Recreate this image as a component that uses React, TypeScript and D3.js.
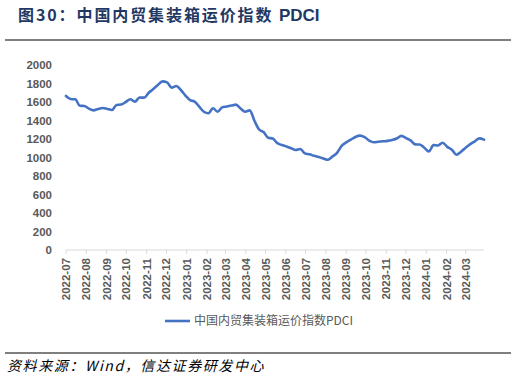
import React from 'react';
import * as d3 from 'd3';

const titleCn = '图30：中国内贸集装箱运价指数 ';
const titleEn = 'PDCI';
const sourceText = '资料来源：Wind，信达证券研发中心';
const seriesName = '中国内贸集装箱运价指数PDCI';
const startDate = '2022-07-01';
const endDomain = '2024-04-01';

// weekly PDCI readings, starting at startDate
const pdci = [
  1665, 1632, 1629, 1560, 1557, 1528, 1510, 1525, 1535, 1525,
  1514, 1568, 1572, 1600, 1629, 1604, 1648, 1647, 1700, 1740,
  1785, 1823, 1812, 1755, 1773, 1730, 1670, 1620, 1605, 1550,
  1495, 1478, 1532, 1495, 1542, 1552, 1562, 1572, 1530, 1495,
  1510, 1400, 1305, 1275, 1214, 1205, 1155, 1135, 1120, 1100,
  1081, 1092, 1045, 1035, 1018, 1005, 990, 975, 1010, 1050,
  1125, 1163, 1193, 1222, 1236, 1220, 1183, 1165, 1170, 1175,
  1180, 1190, 1205, 1234, 1210, 1185, 1142, 1140, 1105, 1065,
  1135, 1130, 1160, 1115, 1085, 1030, 1063, 1105, 1145, 1175,
  1207, 1193,
];

const yTicks = [0, 200, 400, 600, 800, 1000, 1200, 1400, 1600, 1800, 2000];
const monthTicks = [
  '2022-07', '2022-08', '2022-09', '2022-10', '2022-11', '2022-12',
  '2023-01', '2023-02', '2023-03', '2023-04', '2023-05', '2023-06',
  '2023-07', '2023-08', '2023-09', '2023-10', '2023-11', '2023-12',
  '2024-01', '2024-02', '2024-03',
];

const W = 516;
const H = 378;

export default function App() {
  const parseDay = d3.timeParse('%Y-%m-%d');
  const parseMonth = d3.timeParse('%Y-%m');
  const start = parseDay(startDate) as Date;
  const data = pdci.map((v, i) => ({ date: d3.timeDay.offset(start, i * 7), value: v }));
  const lastDate = data[data.length - 1].date;

  const x = d3.scaleTime().domain([start, parseDay(endDomain) as Date]).range([66, 486]);
  const y = d3.scaleLinear().domain([0, 2000]).range([250, 65]);

  const line = d3
    .line<{ date: Date; value: number }>()
    .x((d) => x(d.date))
    .y((d) => y(d.value))
    .curve(d3.curveMonotoneX);

  const tickFont = "'Liberation Sans', Arial, sans-serif";

  return (
    <svg
      width={W}
      height={H}
      style={{ position: 'absolute', left: 0, top: 0, background: '#fff' }}
    >
      <text
        x={18}
        y={21}
        fontSize={16}
        fontWeight="bold"
        fill="#1f3864"
        fontFamily="'Noto Sans CJK SC', sans-serif"
      >
        <tspan letterSpacing={1.9}>{titleCn}</tspan>
        <tspan fontFamily={tickFont} fontSize={17}>{titleEn}</tspan>
      </text>
      <line x1={5} x2={511} y1={40} y2={40} stroke="#7f7f7f" strokeWidth={2} />

      {yTicks.map((t) => (
        <text
          key={t}
          x={52}
          y={y(t)}
          dy="0.35em"
          textAnchor="end"
          fontSize={11.5}
          fontWeight="bold"
          fill="#595959"
          fontFamily={tickFont}
        >
          {t}
        </text>
      ))}

      <line x1={x(start)} x2={x(lastDate)} y1={250} y2={250} stroke="#d9d9d9" strokeWidth={1} />
      {monthTicks.map((m) => {
        const tx = x(parseMonth(m) as Date);
        return (
          <g key={m}>
            <line x1={tx} x2={tx} y1={250} y2={254} stroke="#d9d9d9" strokeWidth={1} />
            <text
              transform={`translate(${tx},258) rotate(-90)`}
              dy="0.35em"
              textAnchor="end"
              fontSize={11.5}
              fontWeight="bold"
              fill="#595959"
              fontFamily={tickFont}
            >
              {m}
            </text>
          </g>
        );
      })}

      <path
        d={line(data) || ''}
        fill="none"
        stroke="#4472c4"
        strokeWidth={2.6}
        strokeLinejoin="round"
        strokeLinecap="round"
      />

      <line x1={165} x2={190} y1={321} y2={321} stroke="#4472c4" strokeWidth={2.6} />
      <text
        x={194}
        y={321}
        dy="0.35em"
        fontSize={12}
        fill="#595959"
        fontFamily="'Noto Sans CJK SC', sans-serif"
      >
        {seriesName}
      </text>

      <line x1={5} x2={511} y1={353} y2={353} stroke="#7f7f7f" strokeWidth={2} />
      <text
        x={7}
        y={371}
        fontSize={14}
        fontStyle="italic"
        letterSpacing={1.6}
        fill="#000"
        fontFamily="'Noto Sans CJK SC', serif"
      >
        {sourceText}
      </text>
    </svg>
  );
}
